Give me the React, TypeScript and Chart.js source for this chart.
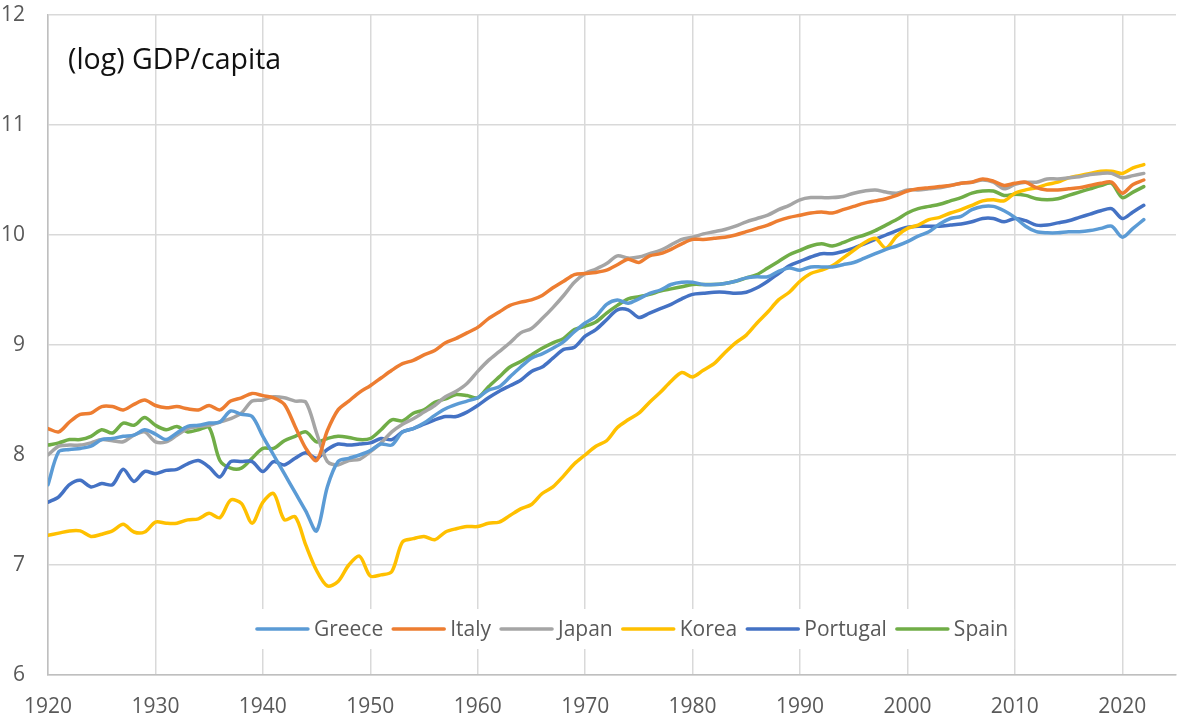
import React, { useEffect, useRef } from "react";
import { Chart, registerables } from "chart.js";

Chart.register(...registerables);

const TITLE = "(log) GDP/capita";

const years = [
  1920, 1921, 1922, 1923, 1924, 1925, 1926, 1927, 1928, 1929,
  1930, 1931, 1932, 1933, 1934, 1935, 1936, 1937, 1938, 1939,
  1940, 1941, 1942, 1943, 1944, 1945, 1946, 1947, 1948, 1949,
  1950, 1951, 1952, 1953, 1954, 1955, 1956, 1957, 1958, 1959,
  1960, 1961, 1962, 1963, 1964, 1965, 1966, 1967, 1968, 1969,
  1970, 1971, 1972, 1973, 1974, 1975, 1976, 1977, 1978, 1979,
  1980, 1981, 1982, 1983, 1984, 1985, 1986, 1987, 1988, 1989,
  1990, 1991, 1992, 1993, 1994, 1995, 1996, 1997, 1998, 1999,
  2000, 2001, 2002, 2003, 2004, 2005, 2006, 2007, 2008, 2009,
  2010, 2011, 2012, 2013, 2014, 2015, 2016, 2017, 2018, 2019,
  2020, 2021, 2022,
];

const greece = [
  7.73, 8.03, 8.05, 8.06, 8.08, 8.14, 8.15, 8.17, 8.18, 8.23,
  8.19, 8.14, 8.20, 8.26, 8.27, 8.29, 8.30, 8.40, 8.37, 8.35,
  8.17, 8.00, 7.83, 7.66, 7.49, 7.31, 7.71, 7.94, 7.97, 8.00,
  8.04, 8.10, 8.09, 8.21, 8.24, 8.29, 8.36, 8.42, 8.46, 8.49,
  8.52, 8.59, 8.62, 8.71, 8.80, 8.88, 8.92, 8.97, 9.03, 9.12,
  9.20, 9.26, 9.37, 9.41, 9.38, 9.42, 9.47, 9.50, 9.55, 9.57,
  9.57, 9.55, 9.55, 9.56, 9.58, 9.61, 9.62, 9.62, 9.67, 9.70,
  9.68, 9.71, 9.71, 9.71, 9.73, 9.75, 9.79, 9.83, 9.87, 9.90,
  9.94, 9.99, 10.03, 10.10, 10.15, 10.17, 10.23, 10.26, 10.26, 10.22,
  10.16, 10.08, 10.03, 10.02, 10.02, 10.03, 10.03, 10.04, 10.06, 10.08,
  9.98, 10.06, 10.14,
];

const italy = [
  8.24, 8.21, 8.30, 8.37, 8.38, 8.44, 8.44, 8.41, 8.46, 8.50,
  8.45, 8.43, 8.44, 8.42, 8.41, 8.45, 8.41, 8.49, 8.52, 8.56,
  8.54, 8.52, 8.46, 8.26, 8.06, 7.95, 8.22, 8.41, 8.49, 8.57,
  8.63, 8.70, 8.77, 8.83, 8.86, 8.91, 8.95, 9.02, 9.06, 9.11,
  9.16, 9.24, 9.30, 9.36, 9.39, 9.41, 9.45, 9.52, 9.58, 9.64,
  9.65, 9.66, 9.68, 9.73, 9.78, 9.75, 9.81, 9.83, 9.87, 9.92,
  9.96, 9.96, 9.97, 9.98, 10.00, 10.03, 10.06, 10.09, 10.13, 10.16,
  10.18, 10.20, 10.21, 10.20, 10.23, 10.26, 10.29, 10.31, 10.33, 10.36,
  10.40, 10.42, 10.43, 10.44, 10.45, 10.47, 10.48, 10.51, 10.49, 10.45,
  10.47, 10.48, 10.43, 10.41, 10.41, 10.42, 10.43, 10.45, 10.47, 10.48,
  10.38, 10.46, 10.50,
];

const japan = [
  8.00, 8.08, 8.09, 8.09, 8.11, 8.14, 8.13, 8.12, 8.18, 8.21,
  8.12, 8.12, 8.18, 8.24, 8.26, 8.27, 8.30, 8.33, 8.38, 8.49,
  8.50, 8.53, 8.52, 8.49, 8.48, 8.20, 7.94, 7.91, 7.95, 7.96,
  8.03, 8.11, 8.21, 8.28, 8.33, 8.39, 8.45, 8.53, 8.58, 8.65,
  8.76, 8.86, 8.94, 9.02, 9.11, 9.15, 9.24, 9.34, 9.45, 9.57,
  9.65, 9.69, 9.74, 9.81, 9.79, 9.80, 9.83, 9.86, 9.91, 9.96,
  9.98, 10.01, 10.03, 10.05, 10.08, 10.12, 10.15, 10.18, 10.23, 10.27,
  10.32, 10.34, 10.34, 10.34, 10.35, 10.38, 10.40, 10.41, 10.39, 10.38,
  10.41, 10.41, 10.42, 10.43, 10.45, 10.47, 10.48, 10.50, 10.48, 10.42,
  10.46, 10.48, 10.48, 10.51, 10.51, 10.52, 10.53, 10.55, 10.56, 10.56,
  10.52, 10.54, 10.56,
];

const korea = [
  7.27, 7.29, 7.31, 7.31, 7.26, 7.28, 7.31, 7.37, 7.30, 7.30,
  7.39, 7.38, 7.38, 7.41, 7.42, 7.47, 7.43, 7.59, 7.56, 7.38,
  7.57, 7.65, 7.41, 7.44, 7.18, 6.95, 6.81, 6.85, 7.00, 7.08,
  6.90, 6.91, 6.94, 7.21, 7.24, 7.26, 7.23, 7.30, 7.33, 7.35,
  7.35, 7.38, 7.39, 7.45, 7.51, 7.55, 7.65, 7.71, 7.81, 7.92,
  8.00, 8.08, 8.13, 8.25, 8.32, 8.38, 8.48, 8.57, 8.67, 8.75,
  8.71, 8.77, 8.83, 8.93, 9.02, 9.09, 9.20, 9.30, 9.41, 9.48,
  9.58, 9.65, 9.68, 9.72, 9.79, 9.86, 9.93, 9.97, 9.88, 9.99,
  10.06, 10.09, 10.14, 10.16, 10.20, 10.23, 10.27, 10.31, 10.32, 10.31,
  10.38, 10.41, 10.43, 10.46, 10.48, 10.52, 10.54, 10.56, 10.58, 10.58,
  10.56, 10.61, 10.64,
];

const portugal = [
  7.57, 7.62, 7.73, 7.77, 7.71, 7.74, 7.73, 7.87, 7.76, 7.85,
  7.83, 7.86, 7.87, 7.92, 7.95, 7.89, 7.80, 7.94, 7.94, 7.94,
  7.85, 7.94, 7.91, 7.97, 8.02, 7.97, 8.05, 8.10, 8.09, 8.10,
  8.11, 8.15, 8.14, 8.21, 8.24, 8.28, 8.32, 8.35, 8.35, 8.39,
  8.45, 8.52, 8.58, 8.63, 8.68, 8.76, 8.80, 8.88, 8.96, 8.98,
  9.08, 9.14, 9.23, 9.32, 9.32, 9.25, 9.29, 9.33, 9.37, 9.42,
  9.46, 9.47, 9.48, 9.48, 9.47, 9.48, 9.52, 9.58, 9.65, 9.72,
  9.76, 9.80, 9.83, 9.83, 9.85, 9.88, 9.92, 9.96, 10.00, 10.04,
  10.07, 10.08, 10.08, 10.08, 10.09, 10.10, 10.12, 10.15, 10.15, 10.12,
  10.15, 10.13, 10.09, 10.09, 10.11, 10.13, 10.16, 10.19, 10.22, 10.24,
  10.15, 10.21, 10.27,
];

const spain = [
  8.09, 8.11, 8.14, 8.14, 8.17, 8.23, 8.20, 8.29, 8.27, 8.34,
  8.27, 8.23, 8.26, 8.21, 8.23, 8.25, 7.95, 7.88, 7.88, 7.97,
  8.06, 8.06, 8.13, 8.17, 8.21, 8.12, 8.15, 8.17, 8.16, 8.14,
  8.15, 8.23, 8.32, 8.31, 8.38, 8.41, 8.48, 8.51, 8.55, 8.54,
  8.52, 8.62, 8.71, 8.80, 8.85, 8.91, 8.97, 9.02, 9.06, 9.14,
  9.17, 9.21, 9.29, 9.36, 9.42, 9.44, 9.46, 9.49, 9.51, 9.53,
  9.55, 9.55, 9.55, 9.56, 9.58, 9.61, 9.64, 9.70, 9.76, 9.82,
  9.86, 9.90, 9.92, 9.90, 9.93, 9.97, 10.00, 10.04, 10.09, 10.14,
  10.20, 10.24, 10.26, 10.28, 10.31, 10.34, 10.38, 10.40, 10.40, 10.36,
  10.37, 10.36, 10.33, 10.32, 10.33, 10.36, 10.39, 10.42, 10.45, 10.47,
  10.34, 10.39, 10.44,
];

const seriesNames = ["Greece", "Italy", "Japan", "Korea", "Portugal", "Spain"];
const seriesColors = ["#5B9BD5", "#ED7D31", "#A5A5A5", "#FFC000", "#4472C4", "#70AD47"];
const seriesValues = [greece, italy, japan, korea, portugal, spain];

const FONT = "'Open Sans', 'Noto Sans', sans-serif";
const TEXT_COLOR = "#595959";

const titlePlugin = {
  id: "insideTitle",
  afterDraw(chart: any) {
    const { ctx, chartArea } = chart;
    ctx.save();
    ctx.font = `28.5px ${FONT}`;
    ctx.fillStyle = "#111111";
    ctx.textAlign = "left";
    ctx.textBaseline = "middle";
    ctx.fillText(TITLE, chartArea.left + 20, chartArea.top + 46);
    ctx.restore();
  },
};

const legendPlugin = {
  id: "insideLegend",
  afterDraw(chart: any) {
    const { ctx, chartArea } = chart;
    ctx.save();
    ctx.font = `21px ${FONT}`;
    const items = chart.data.datasets.map((ds: any) => ({
      label: ds.label as string,
      color: ds.borderColor as string,
      w: ctx.measureText(ds.label).width,
    }));
    const lineLen = 53;
    const gapLT = 5;
    const gapItem = 9;
    const total =
      items.reduce((s: number, it: any) => s + lineLen + gapLT + it.w, 0) +
      gapItem * (items.length - 1);
    const cx = (chartArea.left + chartArea.right) / 2 + 20;
    let x = cx - total / 2;
    const y = chartArea.bottom - 46;
    ctx.fillStyle = "#ffffff";
    ctx.fillRect(x - 6, y - 20, total + 12, 40);
    ctx.textAlign = "left";
    ctx.textBaseline = "middle";
    items.forEach((it: any) => {
      ctx.strokeStyle = it.color;
      ctx.lineWidth = 3.5;
      ctx.lineCap = "round";
      ctx.beginPath();
      ctx.moveTo(x + 1, y);
      ctx.lineTo(x + lineLen - 1, y);
      ctx.stroke();
      x += lineLen + gapLT;
      ctx.fillStyle = TEXT_COLOR;
      ctx.fillText(it.label, x, y + 1);
      x += it.w + gapItem;
    });
    ctx.restore();
  },
};

export default function App() {
  const canvasRef = useRef<HTMLCanvasElement | null>(null);

  useEffect(() => {
    if (!canvasRef.current) return;
    const chart = new Chart(canvasRef.current, {
      type: "line",
      data: {
        labels: years,
        datasets: seriesNames.map((name, i) => ({
          label: name,
          data: seriesValues[i],
          borderColor: seriesColors[i],
          backgroundColor: seriesColors[i],
          borderWidth: 3.5,
          pointRadius: 0,
          pointHoverRadius: 0,
          tension: 0.3,
          fill: false,
          borderCapStyle: "round" as const,
          borderJoinStyle: "round" as const,
        })),
      },
      options: {
        animation: false,
        responsive: true,
        maintainAspectRatio: false,
        layout: { padding: { top: 15, right: 3, left: 0, bottom: 0 } },
        plugins: {
          legend: { display: false },
          title: { display: false },
          tooltip: { enabled: false },
        },
        scales: {
          x: {
            type: "linear",
            min: 1920,
            max: 2025,
            afterBuildTicks: (axis: any) => {
              axis.ticks = years
                .filter((yr) => yr % 10 === 0)
                .map((yr) => ({ value: yr }));
            },
            afterFit: (scale: any) => {
              scale.height = 42;
              scale.paddingLeft = 0;
              scale.paddingRight = 0;
            },
            ticks: {
              stepSize: 10,
              includeBounds: false,
              autoSkip: false,
              maxRotation: 0,
              padding: 19,
              color: TEXT_COLOR,
              font: { family: FONT, size: 21 },
              callback: (v: any) => String(v),
            },
            grid: { color: "#d9d9d9", lineWidth: 1.5, drawTicks: false },
            border: { display: true, color: "#bfbfbf", width: 1.5 },
          },
          y: {
            type: "linear",
            min: 6,
            max: 12,
            afterFit: (scale: any) => {
              scale.width = 48;
              scale.paddingTop = 0;
              scale.paddingBottom = 0;
            },
            ticks: {
              stepSize: 1,
              padding: 23,
              color: TEXT_COLOR,
              font: { family: FONT, size: 21 },
              callback: (v: any) => String(v),
            },
            grid: { color: "#d9d9d9", lineWidth: 1.5, drawTicks: false },
            border: { display: true, color: "#bfbfbf", width: 1.5 },
          },
        },
      },
      plugins: [titlePlugin, legendPlugin],
    });
    return () => chart.destroy();
  }, []);

  return (
    <div
      style={{
        position: "fixed",
        left: 0,
        top: 0,
        width: 1179,
        height: 717,
        background: "#ffffff",
      }}
    >
      <canvas ref={canvasRef} />
    </div>
  );
}
